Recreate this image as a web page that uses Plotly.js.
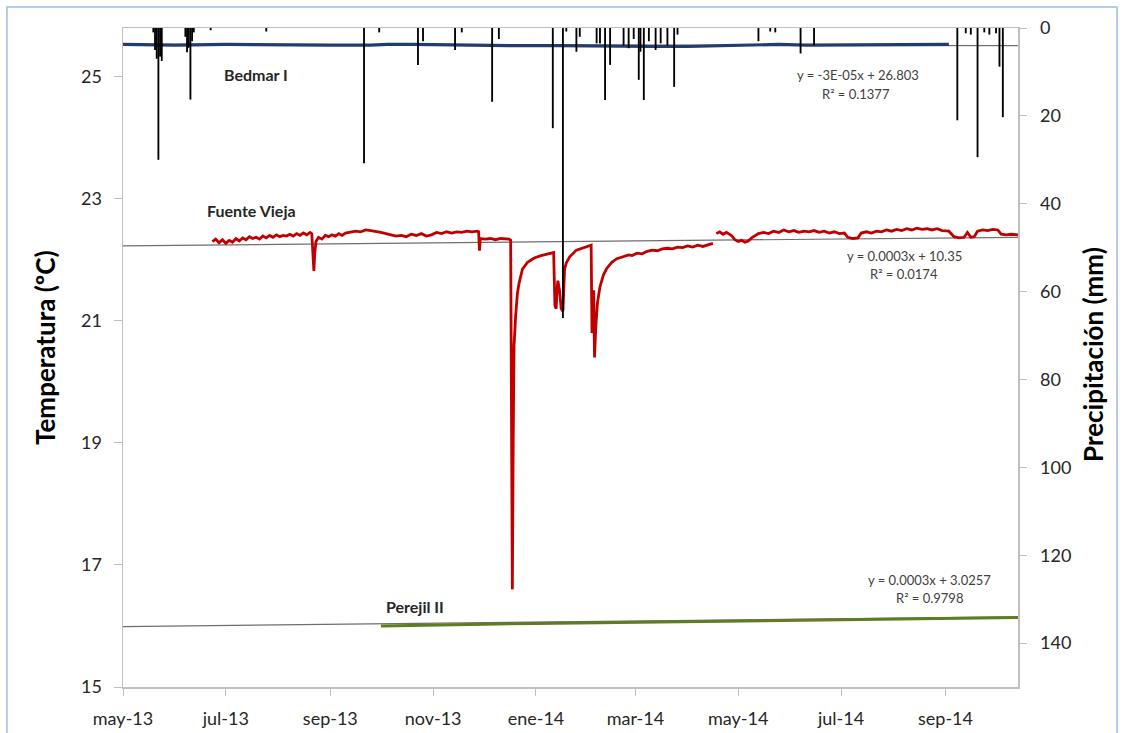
<!DOCTYPE html>
<html>
<head>
<meta charset="utf-8">
<script src="https://cdn.plot.ly/plotly-3.0.1.min.js"></script>
<style>
  html, body { margin: 0; padding: 0; background: #ffffff; }
  #chart { width: 1123px; height: 733px; }
</style>
</head>
<body>
<div id="chart"></div>
<script>
// Monthly tick positions and their Spanish labels
const tickDates = ['2013-05-01', '2013-07-01', '2013-09-01', '2013-11-01', '2014-01-01',
                   '2014-03-01', '2014-05-01', '2014-07-01', '2014-09-01'];
const tickLabels = ['may-13', 'jul-13', 'sep-13', 'nov-13', 'ene-14',
                    'mar-14', 'may-14', 'jul-14', 'sep-14'];

// Bedmar I water temperature (ºC): [date, value]
const bedmarReadings = [
  ['2013-05-01', 25.53], ['2013-06-01', 25.52], ['2013-07-01', 25.53], ['2013-08-01', 25.52],
  ['2013-09-01', 25.52], ['2013-09-25', 25.52], ['2013-10-05', 25.53], ['2013-10-20', 25.53],
  ['2013-11-10', 25.52], ['2013-12-05', 25.51], ['2013-12-20', 25.51], ['2014-01-15', 25.51],
  ['2014-02-10', 25.50], ['2014-03-10', 25.50], ['2014-04-01', 25.50], ['2014-04-20', 25.51],
  ['2014-05-10', 25.52], ['2014-05-25', 25.53], ['2014-06-10', 25.52], ['2014-07-01', 25.52],
  ['2014-08-01', 25.52], ['2014-08-20', 25.53], ['2014-09-03', 25.53]
];

// Fuente Vieja water temperature (ºC): [date, value]; null marks the logger gap
const fuenteReadings = [
  ['2013-06-23', 22.30], ['2013-06-25', 22.34], ['2013-06-27', 22.28], ['2013-06-29', 22.33],
  ['2013-07-01', 22.27], ['2013-07-03', 22.32], ['2013-07-05', 22.29], ['2013-07-07', 22.35],
  ['2013-07-09', 22.31], ['2013-07-11', 22.36], ['2013-07-13', 22.33], ['2013-07-15', 22.38],
  ['2013-07-17', 22.35], ['2013-07-19', 22.37], ['2013-07-21', 22.34], ['2013-07-23', 22.39],
  ['2013-07-25', 22.36], ['2013-07-27', 22.40], ['2013-07-29', 22.37], ['2013-07-31', 22.41],
  ['2013-08-02', 22.38], ['2013-08-04', 22.40], ['2013-08-06', 22.39], ['2013-08-08', 22.42],
  ['2013-08-10', 22.39], ['2013-08-12', 22.43], ['2013-08-14', 22.40], ['2013-08-16', 22.44],
  ['2013-08-18', 22.41], ['2013-08-20', 22.45], ['2013-08-21', 22.43],
  ['2013-08-22 06:00', 21.82], ['2013-08-22 18:00', 22.10], ['2013-08-23 12:00', 22.30],
  ['2013-08-25', 22.37], ['2013-08-27', 22.34], ['2013-08-29', 22.40], ['2013-08-31', 22.38],
  ['2013-09-02', 22.41], ['2013-09-04', 22.39], ['2013-09-06', 22.43], ['2013-09-08', 22.40],
  ['2013-09-10', 22.44], ['2013-09-13', 22.45], ['2013-09-16', 22.47], ['2013-09-19', 22.46],
  ['2013-09-22', 22.49], ['2013-09-25', 22.48], ['2013-09-28', 22.47], ['2013-10-01', 22.45],
  ['2013-10-04', 22.43], ['2013-10-07', 22.41], ['2013-10-10', 22.39], ['2013-10-13', 22.40],
  ['2013-10-16', 22.38], ['2013-10-19', 22.42], ['2013-10-22', 22.40], ['2013-10-25', 22.43],
  ['2013-10-28', 22.39], ['2013-10-31', 22.41], ['2013-11-03', 22.45], ['2013-11-06', 22.43],
  ['2013-11-09', 22.46], ['2013-11-12', 22.44], ['2013-11-15', 22.46], ['2013-11-18', 22.45],
  ['2013-11-21', 22.47], ['2013-11-24', 22.46], ['2013-11-27', 22.47], ['2013-11-28', 22.46],
  ['2013-11-28 12:00', 22.15], ['2013-11-29', 22.35], ['2013-12-02', 22.34], ['2013-12-05', 22.35],
  ['2013-12-08', 22.33], ['2013-12-11', 22.35], ['2013-12-14', 22.34], ['2013-12-16', 22.34],
  ['2013-12-17', 22.32], ['2013-12-17 12:00', 19.50], ['2013-12-18', 16.60],
  ['2013-12-18 12:00', 19.00], ['2013-12-19', 20.60], ['2013-12-20', 21.10], ['2013-12-21', 21.45],
  ['2013-12-22', 21.62], ['2013-12-24', 21.85], ['2013-12-27', 21.96], ['2013-12-31', 22.03],
  ['2014-01-04', 22.07], ['2014-01-08', 22.10], ['2014-01-11', 22.12], ['2014-01-11 12:00', 22.12],
  ['2014-01-12 06:00', 21.25], ['2014-01-13', 21.20], ['2014-01-13 12:00', 21.50],
  ['2014-01-14', 21.66], ['2014-01-15', 21.50], ['2014-01-16', 21.20], ['2014-01-17', 21.16],
  ['2014-01-17 12:00', 21.60], ['2014-01-18', 21.85], ['2014-01-19', 21.95], ['2014-01-21', 22.05],
  ['2014-01-25', 22.16], ['2014-01-30', 22.21], ['2014-02-01', 22.23], ['2014-02-02 18:00', 22.24],
  ['2014-02-03 06:00', 20.80], ['2014-02-03 18:00', 20.90], ['2014-02-04 06:00', 21.50],
  ['2014-02-04 18:00', 20.40], ['2014-02-05 12:00', 20.90], ['2014-02-06 12:00', 21.30],
  ['2014-02-08', 21.56], ['2014-02-10', 21.75], ['2014-02-12', 21.86], ['2014-02-15', 21.96],
  ['2014-02-18', 22.02], ['2014-02-22', 22.05], ['2014-02-25', 22.08], ['2014-02-27', 22.07],
  ['2014-03-02', 22.11], ['2014-03-05', 22.10], ['2014-03-08', 22.14], ['2014-03-11', 22.16],
  ['2014-03-14', 22.15], ['2014-03-17', 22.18], ['2014-03-20', 22.19], ['2014-03-23', 22.18],
  ['2014-03-26', 22.21], ['2014-03-29', 22.20], ['2014-04-01', 22.23], ['2014-04-04', 22.21],
  ['2014-04-07', 22.24], ['2014-04-10', 22.22], ['2014-04-13', 22.25], ['2014-04-16', 22.27],
  ['2014-04-17', null],
  ['2014-04-18', 22.43], ['2014-04-20', 22.46], ['2014-04-22', 22.42], ['2014-04-24', 22.45],
  ['2014-04-27', 22.40], ['2014-04-29', 22.33], ['2014-05-01', 22.30], ['2014-05-03', 22.32],
  ['2014-05-05', 22.29], ['2014-05-07', 22.31], ['2014-05-09', 22.36], ['2014-05-11', 22.40],
  ['2014-05-13', 22.43], ['2014-05-16', 22.45], ['2014-05-19', 22.43], ['2014-05-22', 22.47],
  ['2014-05-25', 22.45], ['2014-05-28', 22.49], ['2014-05-31', 22.46], ['2014-06-03', 22.48],
  ['2014-06-06', 22.45], ['2014-06-09', 22.47], ['2014-06-12', 22.46], ['2014-06-15', 22.48],
  ['2014-06-18', 22.45], ['2014-06-21', 22.47], ['2014-06-24', 22.44], ['2014-06-27', 22.46],
  ['2014-06-30', 22.43], ['2014-07-03', 22.44], ['2014-07-05', 22.37], ['2014-07-08', 22.35],
  ['2014-07-11', 22.36], ['2014-07-13', 22.44], ['2014-07-16', 22.46], ['2014-07-19', 22.44],
  ['2014-07-22', 22.47], ['2014-07-25', 22.46], ['2014-07-28', 22.49], ['2014-07-31', 22.47],
  ['2014-08-03', 22.50], ['2014-08-06', 22.48], ['2014-08-09', 22.51], ['2014-08-12', 22.49],
  ['2014-08-15', 22.52], ['2014-08-18', 22.50], ['2014-08-21', 22.51], ['2014-08-24', 22.49],
  ['2014-08-27', 22.51], ['2014-08-30', 22.48], ['2014-09-03', 22.47], ['2014-09-06', 22.38],
  ['2014-09-09', 22.36], ['2014-09-12', 22.37], ['2014-09-14', 22.45], ['2014-09-16', 22.37],
  ['2014-09-18', 22.38], ['2014-09-20', 22.47], ['2014-09-23', 22.49], ['2014-09-26', 22.48],
  ['2014-09-29', 22.50], ['2014-10-02', 22.49], ['2014-10-04', 22.42], ['2014-10-07', 22.41],
  ['2014-10-10', 22.42], ['2014-10-14', 22.41]
];

// Perejil II water temperature (ºC): [date, value]
const perejilReadings = [
  ['2013-10-01', 16.00], ['2013-11-01', 16.02], ['2013-12-01', 16.03], ['2014-01-01', 16.04],
  ['2014-02-01', 16.05], ['2014-03-01', 16.06], ['2014-04-01', 16.07], ['2014-05-01', 16.08],
  ['2014-06-01', 16.09], ['2014-07-01', 16.10], ['2014-08-01', 16.12], ['2014-09-01', 16.13],
  ['2014-10-14', 16.14]
];

// Linear trend lines over the full date span
const trendDates = ['2013-05-01', '2014-10-14'];
const bedmarTrend = [25.53, 25.51];
const fuenteTrend = [22.23, 22.37];
const perejilTrend = [15.99, 16.15];

// Daily precipitation (mm): [date, value]
const rainReadings = [
  ['2013-05-19', 1.0], ['2013-05-20', 5.0], ['2013-05-21', 7.0], ['2013-05-22', 30.0],
  ['2013-05-23', 6.5], ['2013-05-24', 7.5], ['2013-06-07', 2.0], ['2013-06-08', 5.5],
  ['2013-06-09', 4.5], ['2013-06-10', 16.3], ['2013-06-11', 3.0], ['2013-06-12', 1.0],
  ['2013-06-22', 0.5], ['2013-07-25', 0.8], ['2013-09-21', 30.8], ['2013-09-30', 1.0],
  ['2013-10-23', 8.4], ['2013-10-26', 3.0], ['2013-11-14', 5.0], ['2013-11-18', 1.0],
  ['2013-12-06', 16.8], ['2013-12-10', 2.5], ['2014-01-11', 22.8], ['2014-01-17', 66.0],
  ['2014-01-19', 0.8], ['2014-01-25', 5.4], ['2014-01-27', 2.0], ['2014-02-06', 3.5],
  ['2014-02-08', 3.5], ['2014-02-11', 16.4], ['2014-02-14', 8.4], ['2014-02-22', 4.0],
  ['2014-02-25', 4.6], ['2014-02-28', 2.5], ['2014-03-03', 11.8], ['2014-03-04', 5.4],
  ['2014-03-06', 16.4], ['2014-03-09', 3.0], ['2014-03-13', 5.0], ['2014-03-16', 3.5],
  ['2014-03-20', 4.0], ['2014-03-24', 13.4], ['2014-03-26', 1.5], ['2014-05-13', 3.0],
  ['2014-05-20', 0.8], ['2014-05-23', 1.0], ['2014-06-07', 5.8], ['2014-06-15', 3.9],
  ['2014-09-08', 21.0], ['2014-09-13', 1.2], ['2014-09-16', 1.5], ['2014-09-20', 29.4],
  ['2014-09-24', 1.0], ['2014-09-27', 1.5], ['2014-10-01', 1.2], ['2014-10-03', 8.8],
  ['2014-10-05', 20.3]
];

const col = (rows, i) => rows.map(r => r[i]);

const DAY_MS = 86400000;
const axisGrey = '#bfbfbf';
const textDark = '#262626';
const eqGrey = '#404040';
const baseFont = 'Lato, "Open Sans", sans-serif';

const trendStyle = {color: '#6f6f6f', width: 1.2};

const traces = [
  {x: trendDates, y: bedmarTrend, type: 'scatter', mode: 'lines', line: trendStyle},
  {x: trendDates, y: fuenteTrend, type: 'scatter', mode: 'lines', line: trendStyle},
  {x: trendDates, y: perejilTrend, type: 'scatter', mode: 'lines', line: trendStyle},
  {x: col(bedmarReadings, 0), y: col(bedmarReadings, 1), type: 'scatter', mode: 'lines',
   line: {color: '#1f3e6e', width: 3.2}},
  {x: col(fuenteReadings, 0), y: col(fuenteReadings, 1), type: 'scatter', mode: 'lines',
   connectgaps: false, line: {color: '#c00000', width: 2.8}},
  {x: col(perejilReadings, 0), y: col(perejilReadings, 1), type: 'scatter', mode: 'lines',
   line: {color: '#5e7d23', width: 3}},
  {x: col(rainReadings, 0), y: col(rainReadings, 1), type: 'bar', yaxis: 'y2',
   width: DAY_MS * 1.1, marker: {color: '#000000', line: {width: 0}}}
];

// Paper-coordinate helpers for the plot frame (plot area 123..1018 x 28..687 px)
const L = 123, R = 1018, T = 28, B = 687;
const px = v => (v - L) / (R - L);
const py = v => (B - v) / (B - T);

const annotations = [
  {text: 'Bedmar I', x: px(256), y: py(74), bold: true},
  {text: 'Fuente Vieja', x: px(251), y: py(210), bold: true},
  {text: 'Perejil II', x: px(415), y: py(606), bold: true},
  {text: 'y = -3E-05x + 26.803', x: px(858), y: py(75)},
  {text: 'R² = 0.1377', x: px(856), y: py(94)},
  {text: 'y = 0.0003x + 10.35', x: px(904), y: py(256)},
  {text: 'R² = 0.0174', x: px(904), y: py(274)},
  {text: 'y = 0.0003x + 3.0257', x: px(929), y: py(580)},
  {text: 'R² = 0.9798', x: px(929), y: py(598)}
].map(a => ({
  text: a.bold ? '<b>' + a.text + '</b>' : a.text,
  xref: 'paper', yref: 'paper', x: a.x, y: a.y,
  xanchor: 'center', yanchor: 'middle', showarrow: false,
  font: {family: baseFont, size: a.bold ? 16 : 13, color: a.bold ? textDark : eqGrey}
}));

annotations.push(
  {text: '<b>Temperatura (ºC)</b>', xref: 'paper', yref: 'paper',
   x: px(45), y: py(348), textangle: -90, showarrow: false,
   xanchor: 'center', yanchor: 'middle',
   font: {family: baseFont, size: 26, color: '#000000'}},
  {text: '<b>Precipitación (mm)</b>', xref: 'paper', yref: 'paper',
   x: px(1093), y: py(355), textangle: -90, showarrow: false,
   xanchor: 'center', yanchor: 'middle',
   font: {family: baseFont, size: 26, color: '#000000'}}
);

const layout = {
  width: 1123, height: 733,
  margin: {l: L, r: 1123 - R, t: T, b: 733 - B, pad: 0},
  paper_bgcolor: '#ffffff', plot_bgcolor: '#ffffff',
  showlegend: false, hovermode: false,
  font: {family: baseFont, color: textDark},
  xaxis: {
    type: 'date', range: ['2013-05-01', '2014-10-14'],
    tickmode: 'array', tickvals: tickDates, ticktext: tickLabels,
    ticks: 'outside', ticklen: 7, tickcolor: axisGrey, tickwidth: 1,
    showline: true, linecolor: axisGrey, linewidth: 1.5, mirror: true,
    showgrid: false, zeroline: false, ticklabelstandoff: 8,
    tickfont: {family: baseFont, size: 18, color: textDark}
  },
  yaxis: {
    range: [15, 25.8], tick0: 15, dtick: 2,
    ticks: 'outside', ticklen: 8, tickcolor: axisGrey, tickwidth: 1,
    showline: true, linecolor: axisGrey, linewidth: 1.5,
    showgrid: false, zeroline: false, ticklabelstandoff: 8,
    tickfont: {family: baseFont, size: 18, color: textDark}
  },
  yaxis2: {
    overlaying: 'y', side: 'right', range: [150, 0], tick0: 0, dtick: 20,
    ticks: 'outside', ticklen: 7, tickcolor: axisGrey, tickwidth: 1,
    showline: true, linecolor: axisGrey, linewidth: 1.5,
    showgrid: false, zeroline: false, ticklabelstandoff: 10,
    tickfont: {family: baseFont, size: 18, color: textDark}
  },
  annotations: annotations,
  shapes: [
    // light blue frame around the whole chart object
    {type: 'rect', xref: 'paper', yref: 'paper', layer: 'above',
     x0: px(7), x1: px(1117), y0: py(760), y1: py(7),
     line: {color: '#9dbde6', width: 1.5}, fillcolor: 'rgba(0,0,0,0)'}
  ]
};

Plotly.newPlot('chart', traces, layout, {staticPlot: true, displayModeBar: false});
</script>
</body>
</html>
